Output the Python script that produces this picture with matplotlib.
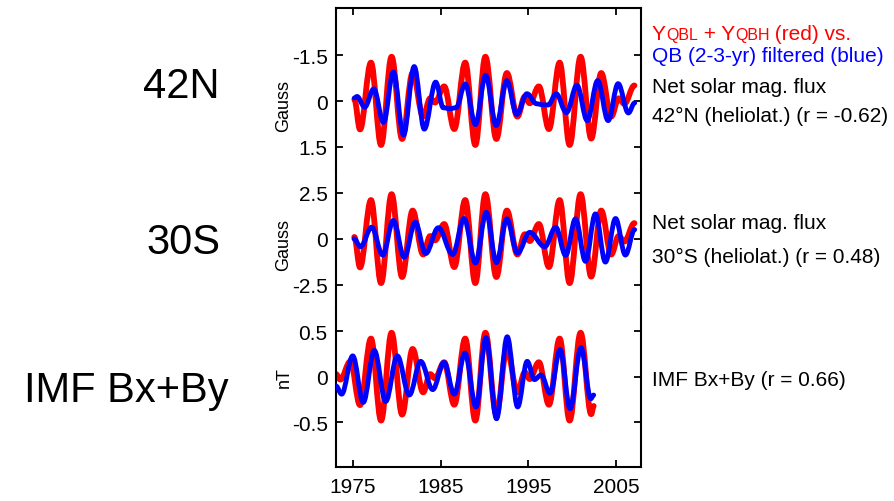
import matplotlib
matplotlib.use("Agg")
import matplotlib.pyplot as plt
from matplotlib.path import Path
from matplotlib.patches import PathPatch

plt.rcParams['font.family'] = ['Liberation Sans', 'DejaVu Sans']
plt.rcParams['axes.unicode_minus'] = False

# ---------------- data ----------------
# YQBL + YQBH model curve (red), expressed in the 30S-panel units (Gauss)
red_year = [1973.06, 1973.55, 1974.7, 1975.8, 1977.05, 1978.2, 1979.4, 1980.6, 1981.8,
            1983.0, 1983.8, 1984.35, 1985.4, 1986.55, 1987.8, 1988.95, 1990.1, 1991.35,
            1992.55, 1993.75, 1994.6, 1995.15, 1996.2, 1997.35, 1998.57, 1999.71,
            2000.96, 2002.17, 2003.31, 2004.45, 2005.3, 2005.95, 2007.1]
red_val = [0.15, -0.15, 0.85, -1.55, 2.1, -2.4, 2.42, -2.07, 1.53,
           -0.85, 0.15, -0.08, 0.8, -1.53, 2.1, -2.4, 2.42, -2.07,
           1.53, -0.85, 0.25, -0.12, 0.8, -1.53, 2.1, -2.4,
           2.42, -2.05, 1.53, -0.85, 0.15, -0.15, 0.85]
red_start_gauss = (1975.15, 0.1)     # where the red curve begins in the 42N / 30S panels
red_end_imf = (2002.45, -1.6)        # where the red curve ends in the IMF panel
red_scale = {'42N': -0.6, '30S': 1.0, 'IMF': 0.2}

# QB (2-3-yr) filtered data (blue)
blue42_year = [1975.15, 1975.46, 1976.33, 1977.37, 1978.48, 1979.6, 1980.76, 1981.98,
               1983.13, 1984.43, 1985.3, 1986.05, 1986.75, 1987.8, 1988.97, 1990.13,
               1991.33, 1992.54, 1993.68, 1994.84, 1995.95, 1996.6, 1997.25, 1998.17,
               1999.34, 2000.54, 2001.72, 2002.91, 2004.1, 2005.24, 2006.41, 2007.13]
blue42_val = [-0.1, -0.15, 0.2, -0.4, 0.7, -0.95, 1.11, -1.13,
              0.92, -0.62, 0.22, 0.25, 0.22, -0.56, 0.77, -0.85,
              0.8, -0.67, 0.44, -0.24, 0.09, 0.12, 0.13, -0.24,
              0.38, -0.52, 0.64, -0.67, 0.64, -0.57, 0.39, 0.06]

blue30_year = [1975.11, 1975.86, 1977.13, 1978.39, 1979.6, 1980.84, 1982.1, 1983.28,
               1984.73, 1986.37, 1987.66, 1988.97, 1990.2, 1991.36, 1992.54, 1993.76,
               1995.16, 1996.87, 1998.12, 1999.26, 2000.38, 2001.52, 2002.65, 2003.79,
               2004.95, 2006.07, 2007.13]
blue30_val = [0.0, -0.43, 0.63, -0.88, 0.99, -1.0, 0.9, -0.8,
              0.6, -0.85, 1.1, -1.31, 1.44, -1.29, 1.08, -0.77,
              0.35, -0.43, 0.63, -0.9, 1.08, -1.22, 1.35, -1.26,
              1.1, -0.88, 0.5]

blueimf_year = [1973.06, 1973.7, 1974.97, 1976.17, 1977.43, 1978.73, 1980.05, 1981.42,
                1982.72, 1984.09, 1985.38, 1986.55, 1987.77, 1989.03, 1990.17, 1991.37,
                1992.59, 1993.78, 1994.87, 1995.7, 1996.45, 1997.48, 1998.62, 1999.76,
                2001.0, 2002.13, 2002.45]
blueimf_val = [-0.1, -0.19, 0.23, -0.28, 0.29, -0.27, 0.23, -0.2,
               0.17, -0.14, 0.16, -0.19, 0.26, -0.33, 0.43, -0.46,
               0.44, -0.33, 0.17, -0.03, 0.02, -0.18, 0.3, -0.35,
               0.32, -0.24, -0.2]

year_ticks = [1975, 1985, 1995, 2005]
ticks42 = [-1.5, 0, 1.5]
ticklabels42 = ['-1.5', '0', '1.5']
ticks30 = [-2.5, 0, 2.5]
ticklabels30 = ['-2.5', '0', '2.5']
ticksimf = [-0.5, 0, 0.5]
ticklabelsimf = ['-0.5', '0', '0.5']

panel_names = ['42N', '30S', 'IMF Bx+By']
panel_units = ['Gauss', 'Gauss', 'nT']
panel_notes = [['Net solar mag. flux', '42°N (heliolat.) (r = -0.62)'],
               ['Net solar mag. flux', '30°S (heliolat.) (r = 0.48)'],
               ['IMF Bx+By (r = 0.66)']]

# ---------------- drawing ----------------
W, H = 894, 502
fig = plt.figure(figsize=(W / 100, H / 100), dpi=100)


def add_px_axes(x0, y0, x1, y1):
    return fig.add_axes([x0 / W, 1 - y1 / H, (x1 - x0) / W, (y1 - y0) / H])


def smooth_curve(ax, xs, ys, color, lw, z):
    c = 1 - 2 / 3.141592653589793
    verts = [(xs[0], ys[0])]
    codes = [Path.MOVETO]
    for i in range(len(xs) - 1):
        d = xs[i + 1] - xs[i]
        verts += [(xs[i] + c * d, ys[i]), (xs[i + 1] - c * d, ys[i + 1]), (xs[i + 1], ys[i + 1])]
        codes += [Path.CURVE4] * 3
    patch = PathPatch(Path(verts, codes), fill=False, edgecolor=color, lw=lw,
                      capstyle='round', joinstyle='round', zorder=z)
    ax.add_patch(patch)


ax_top = add_px_axes(336, 9, 641, 171)
ax_mid = add_px_axes(336, 171, 641, 309)
ax_bot = add_px_axes(336, 309, 641, 468)
axes = [ax_top, ax_mid, ax_bot]

ax_top.set_ylim(2.26, -3.05)
ax_mid.set_ylim(-3.75, 3.73)
ax_bot.set_ylim(-0.99, 0.756)

for ax in axes:
    ax.set_xlim(1973.06, 2007.85)
    for s in ax.spines.values():
        s.set_linewidth(1.5)
    ax.set_xticks(year_ticks)
    ax.tick_params(axis='both', direction='in', length=5, width=1.3,
                   labelsize=15, left=True, right=True, top=False, bottom=False,
                   labelbottom=False, labeltop=False)
    ax.tick_params(axis='y', pad=6)

ax_top.spines['bottom'].set_visible(False)
ax_mid.spines['top'].set_visible(False)
ax_mid.spines['bottom'].set_visible(False)
ax_bot.spines['top'].set_visible(False)
ax_top.tick_params(axis='x', top=True)
ax_bot.tick_params(axis='x', bottom=True, labelbottom=True, pad=7)

ax_top.set_yticks(ticks42, ticklabels42)
ax_mid.set_yticks(ticks30, ticklabels30)
ax_bot.set_yticks(ticksimf, ticklabelsimf)

# red model curves
rs42 = [red_start_gauss[0]] + [t for t in red_year if t > 1975.3]
rv = [red_start_gauss[1]] + [v for t, v in zip(red_year, red_val) if t > 1975.3]
smooth_curve(ax_top, rs42, [v * red_scale['42N'] for v in rv], '#ff0000', 4.2, 2)
smooth_curve(ax_mid, rs42, [v * red_scale['30S'] for v in rv], '#ff0000', 4.2, 2)
ri_t = [t for t in red_year if t < red_end_imf[0]] + [red_end_imf[0]]
ri_v = [v for t, v in zip(red_year, red_val) if t < red_end_imf[0]] + [red_end_imf[1]]
smooth_curve(ax_bot, ri_t, [v * red_scale['IMF'] for v in ri_v], '#ff0000', 4.2, 2)

# blue data curves
smooth_curve(ax_top, blue42_year, blue42_val, '#0000ff', 3.5, 3)
smooth_curve(ax_mid, blue30_year, blue30_val, '#0000ff', 3.5, 3)
smooth_curve(ax_bot, blueimf_year, blueimf_val, '#0000ff', 3.5, 3)

# y labels
for ax, unit, yc in zip(axes, panel_units, [0.40, 0.464, 0.569]):
    ax.set_ylabel(unit, fontsize=13, va='center')
    ax.yaxis.set_label_coords((284 - 336) / 305, yc)

# left big labels
fig.text(220 / W, 1 - 97.5 / H, panel_names[0], fontsize=30, ha='right', va='baseline')
fig.text(220 / W, 1 - 254.5 / H, panel_names[1], fontsize=30, ha='right', va='baseline')
fig.text(229 / W, 1 - 401.7 / H, panel_names[2], fontsize=30, ha='right', va='baseline')

# right-hand annotations
xr = 652 / W
big, small = 15, 11.5
yb = 1 - 40 / H
parts = [('Y', big), ('QBL', small), (' + Y', big), ('QBH', small), (' (red) vs.', big)]
fig.canvas.draw()
renderer = fig.canvas.get_renderer()
x_cur = xr
for txt, size in parts:
    t = fig.text(x_cur, yb, txt, fontsize=size, color='#ff0000', ha='left', va='baseline')
    bb = t.get_window_extent(renderer)
    x_cur = bb.x1 / W
fig.text(xr, 1 - 61.5 / H, 'QB (2-3-yr) filtered (blue)', fontsize=big, color='#0000ff',
         ha='left', va='baseline')
fig.text(xr, 1 - 93 / H, panel_notes[0][0], fontsize=big, ha='left', va='baseline')
fig.text(xr, 1 - 121.5 / H, panel_notes[0][1], fontsize=big, ha='left', va='baseline')
fig.text(xr, 1 - 229 / H, panel_notes[1][0], fontsize=big, ha='left', va='baseline')
fig.text(xr, 1 - 263 / H, panel_notes[1][1], fontsize=big, ha='left', va='baseline')
fig.text(xr, 1 - 386 / H, panel_notes[2][0], fontsize=big, ha='left', va='baseline')

fig.savefig('out.png', dpi=100)
